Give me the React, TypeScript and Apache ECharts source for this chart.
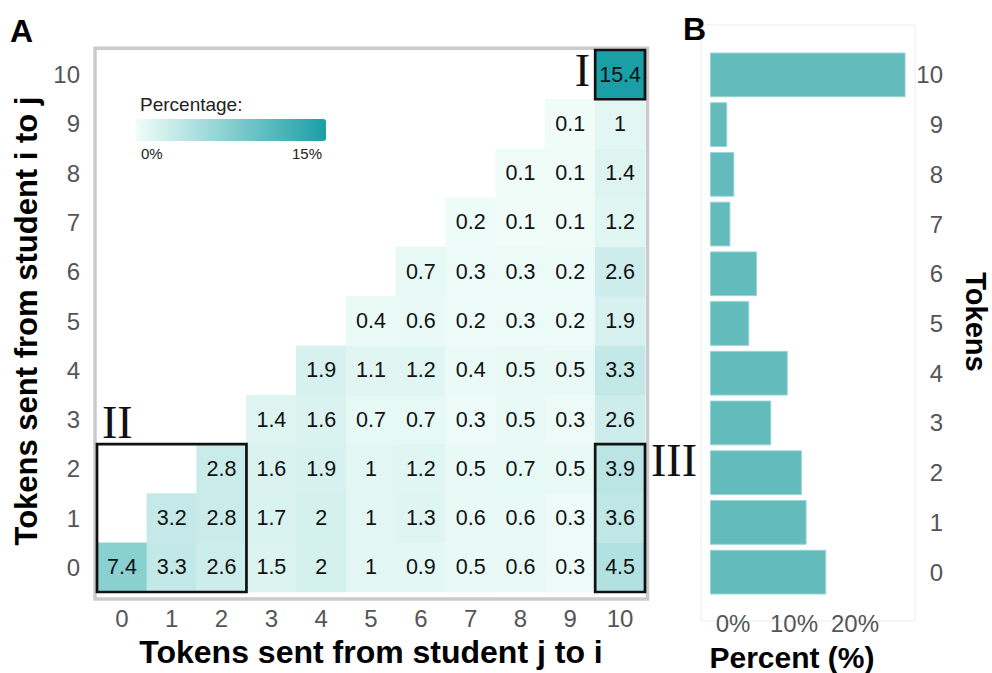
import React, { useEffect, useRef } from 'react';
import * as echarts from 'echarts';

// token categories (0..10)
const tokens = ['0', '1', '2', '3', '4', '5', '6', '7', '8', '9', '10'];

// Heatmap: row r = tokens sent from student i to j; values listed for columns r..10
const row0 = [7.4, 3.3, 2.6, 1.5, 2, 1, 0.9, 0.5, 0.6, 0.3, 4.5];
const row1 = [3.2, 2.8, 1.7, 2, 1, 1.3, 0.6, 0.6, 0.3, 3.6];
const row2 = [2.8, 1.6, 1.9, 1, 1.2, 0.5, 0.7, 0.5, 3.9];
const row3 = [1.4, 1.6, 0.7, 0.7, 0.3, 0.5, 0.3, 2.6];
const row4 = [1.9, 1.1, 1.2, 0.4, 0.5, 0.5, 3.3];
const row5 = [0.4, 0.6, 0.2, 0.3, 0.2, 1.9];
const row6 = [0.7, 0.3, 0.3, 0.2, 2.6];
const row7 = [0.2, 0.1, 0.1, 1.2];
const row8 = [0.1, 0.1, 1.4];
const row9 = [0.1, 1];
const row10 = [15.4];
const rows = [row0, row1, row2, row3, row4, row5, row6, row7, row8, row9, row10];

// Panel B: percent of each token amount
const tokenPercent = [14.8, 12.3, 11.7, 7.8, 9.9, 5.0, 6.0, 2.6, 3.1, 2.2, 24.9];
const percentTicks = [0, 10, 20];

// Highlighted blocks: [x0, y0, x1, y1] in token indices
const boxNames = ['I', 'II', 'III'];
const boxCells = [
  [10, 10, 10, 10],
  [0, 0, 2, 2],
  [10, 0, 10, 2],
];

const FONT = "'Liberation Sans', Arial, Helvetica, sans-serif";
const SERIF = "'Liberation Serif', 'Times New Roman', serif";

export default function App() {
  const ref = useRef<HTMLDivElement>(null);

  useEffect(() => {
    if (!ref.current) return;
    const chart = echarts.init(ref.current, undefined, { renderer: 'svg' });

    const heatData: number[][] = [];
    rows.forEach((vals, r) => {
      vals.forEach((v, k) => heatData.push([r + k, r, v]));
    });

    const tickLabel = { color: '#555', fontSize: 24, fontFamily: FONT };
    const titleStyle = { fontSize: 32, fontWeight: 'bold', color: '#000', fontFamily: FONT };

    const option: any = {
      animation: false,
      backgroundColor: '#fff',
      textStyle: { fontFamily: FONT },
      grid: [
        { left: 97, top: 50, width: 548, height: 547 },
        { left: 710, top: 50, width: 205, height: 547 },
      ],
      xAxis: [
        {
          gridIndex: 0,
          type: 'category',
          data: tokens,
          axisLine: { show: false },
          axisTick: { show: false },
          splitLine: { show: false },
          axisLabel: { ...tickLabel, margin: 14 },
          name: 'Tokens sent from student j to i',
          nameLocation: 'middle',
          nameGap: 44,
          nameTextStyle: titleStyle,
        },
        { gridIndex: 1, type: 'value', min: 0, max: 26.1, show: false },
        {
          gridIndex: 1,
          type: 'value',
          min: -3.77,
          max: 29.84,
          position: 'bottom',
          axisLine: { show: false },
          axisTick: { show: false },
          splitLine: { show: false },
          axisLabel: { ...tickLabel, margin: 14, customValues: percentTicks, formatter: '{value}%' },
        },
      ],
      yAxis: [
        {
          gridIndex: 0,
          type: 'category',
          data: tokens,
          axisLine: { show: false },
          axisTick: { show: false },
          splitLine: { show: false },
          axisLabel: { ...tickLabel, margin: 17 },
          name: 'Tokens sent from student i to j',
          nameLocation: 'middle',
          nameGap: 49,
          nameTextStyle: { ...titleStyle, fontSize: 31 },
        },
        {
          gridIndex: 1,
          type: 'category',
          data: tokens,
          position: 'right',
          axisLine: { show: false },
          axisTick: { show: false },
          splitLine: { show: false },
          axisLabel: { ...tickLabel, margin: 28, align: 'right' },
        },
      ],
      visualMap: {
        type: 'continuous',
        seriesIndex: 0,
        min: 0,
        max: 15.4,
        orient: 'horizontal',
        left: 136,
        top: 119,
        itemWidth: 22,
        itemHeight: 190,
        padding: 0,
        calculable: false,
        hoverLink: false,
        inRange: { color: ['#f0fdf9', '#1a9fa6'] },
      },
      series: [
        {
          type: 'heatmap',
          xAxisIndex: 0,
          yAxisIndex: 0,
          data: heatData,
          label: {
            show: true,
            color: '#111',
            fontSize: 21.5,
            fontFamily: FONT,
            formatter: (p: any) => String(p.value[2]),
          },
          itemStyle: { borderWidth: 0 },
        },
        {
          type: 'custom',
          xAxisIndex: 0,
          yAxisIndex: 0,
          z: 5,
          data: boxCells,
          renderItem: (params: any, api: any) => {
            const p0 = api.coord([api.value(0), api.value(1)]);
            const p1 = api.coord([api.value(2), api.value(3)]);
            const s = api.size([1, 1]);
            const x = p0[0] - s[0] / 2;
            const y = p1[1] - s[1] / 2;
            const w = p1[0] - p0[0] + s[0];
            const h = p0[1] - p1[1] + s[1];
            const idx = params.dataIndex;
            let tx = 0, ty = 0, align = 'left';
            if (idx === 0) { tx = x - 5; ty = y + h / 2 - 4; align = 'right'; }
            else if (idx === 1) { tx = x + 5; ty = y - 22; align = 'left'; }
            else { tx = x + w + 6; ty = y + 16; align = 'left'; }
            return {
              type: 'group',
              children: [
                {
                  type: 'rect',
                  shape: { x, y, width: w, height: h },
                  style: { fill: 'none', stroke: '#111', lineWidth: 2.7 },
                },
                {
                  type: 'text',
                  style: {
                    text: boxNames[idx],
                    x: tx,
                    y: ty,
                    align,
                    textAlign: align,
                    verticalAlign: 'middle',
                    textVerticalAlign: 'middle',
                    fontFamily: SERIF,
                    fontSize: 46,
                    fill: '#111',
                  },
                },
              ],
            };
          },
        },
        {
          type: 'bar',
          xAxisIndex: 1,
          yAxisIndex: 1,
          data: tokenPercent,
          barCategoryGap: '10%',
          itemStyle: { color: '#63bbbc', borderColor: '#9ad5d5', borderWidth: 1 },
        },
      ],
      graphic: [
        {
          type: 'rect',
          shape: { x: 95, y: 48.3, width: 552.5, height: 550.7 },
          style: { fill: 'none', stroke: '#cbcbcb', lineWidth: 3.5 },
        },
        {
          type: 'rect',
          shape: { x: 701, y: 25, width: 214, height: 596 },
          style: { fill: 'none', stroke: '#ececec', lineWidth: 1 },
        },
        {
          type: 'text', x: 10, y: 31,
          style: { text: 'A', fontSize: 32, fontWeight: 'bold', fill: '#000', fontFamily: FONT, verticalAlign: 'middle', textVerticalAlign: 'middle' },
        },
        {
          type: 'text', x: 683, y: 29,
          style: { text: 'B', fontSize: 32, fontWeight: 'bold', fill: '#000', fontFamily: FONT, verticalAlign: 'middle', textVerticalAlign: 'middle' },
        },
        {
          type: 'text', x: 140, y: 104,
          style: { text: 'Percentage:', fontSize: 19, fill: '#222', fontFamily: FONT, verticalAlign: 'middle', textVerticalAlign: 'middle' },
        },
        {
          type: 'text', x: 141, y: 153,
          style: { text: '0%', fontSize: 15, fill: '#222', fontFamily: FONT, verticalAlign: 'middle', textVerticalAlign: 'middle' },
        },
        {
          type: 'text', x: 322, y: 153,
          style: { text: '15%', fontSize: 15, fill: '#222', fontFamily: FONT, align: 'right', textAlign: 'right', verticalAlign: 'middle', textVerticalAlign: 'middle' },
        },
        {
          type: 'text', x: 792, y: 657,
          style: { text: 'Percent (%)', fontSize: 30, fontWeight: 'bold', fill: '#000', fontFamily: FONT, align: 'center', textAlign: 'center', verticalAlign: 'middle', textVerticalAlign: 'middle' },
        },
        {
          type: 'text', x: 976, y: 322, rotation: -Math.PI / 2,
          style: { text: 'Tokens', fontSize: 29, fontWeight: 'bold', fill: '#000', fontFamily: FONT, align: 'center', textAlign: 'center', verticalAlign: 'middle', textVerticalAlign: 'middle' },
        },
      ],
    };

    chart.setOption(option);
    return () => chart.dispose();
  }, []);

  return (
    <div
      ref={ref}
      style={{ position: 'absolute', left: 0, top: 0, width: 992, height: 673, background: '#fff' }}
    />
  );
}
